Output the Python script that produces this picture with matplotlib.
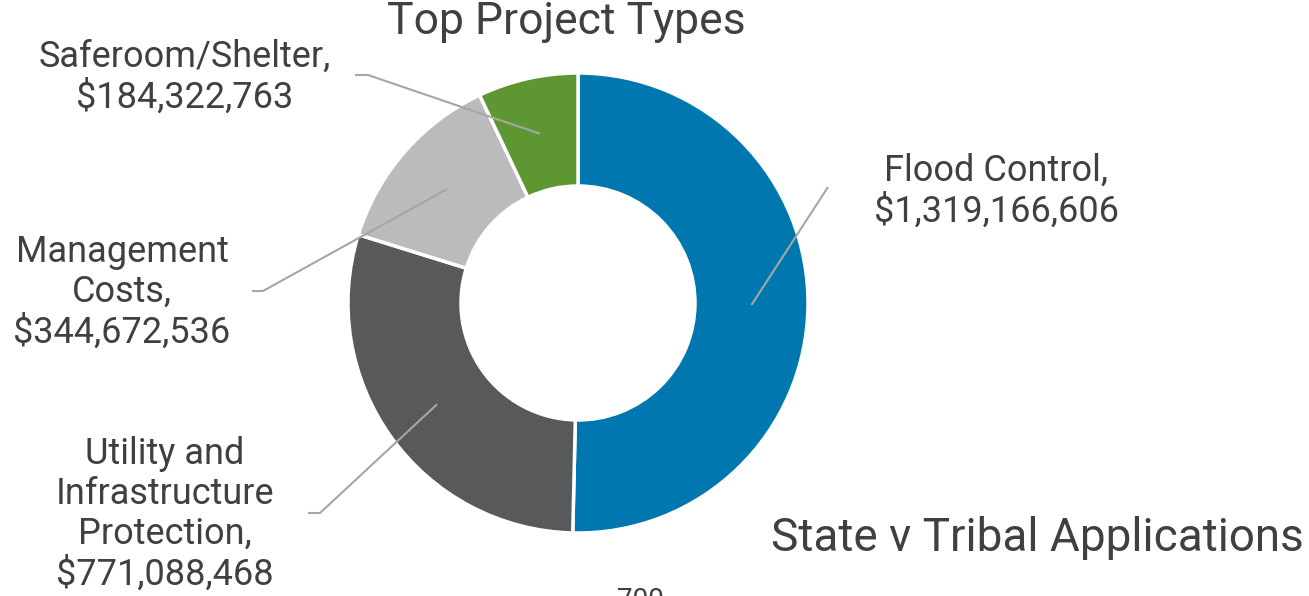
import numpy as np
from matplotlib import pyplot as plt

plt.rcParams['font.family'] = ['Roboto', 'DejaVu Sans']

categories = ['Flood Control', 'Utility and\nInfrastructure\nProtection',
              'Management\nCosts', 'Saferoom/Shelter']
amounts = [1319166606, 771088468, 344672536, 184322763]
colors = ['#0077ae', '#58595b', '#babbbd', '#5e9732']

W, H = 1309, 596
fig = plt.figure(figsize=(W / 100, H / 100), dpi=100)
ax = fig.add_axes([0, 0, 1, 1])

cx, cy = 578, H - 303
r_out, r_in = 230, 117
wedges, _ = ax.pie(amounts, colors=colors, startangle=90, counterclock=False,
                   center=(cx, cy), radius=r_out, frame=True,
                   wedgeprops=dict(width=r_out - r_in, edgecolor='white', linewidth=2.5))
ax.set_xlim(0, W)
ax.set_ylim(0, H)
ax.set_aspect('equal')
ax.axis('off')

# label text positions (center of block) and elbow of leader line, in pixels from top
label_pos = [(996, 191), (165, 514), (122, 292), (185, 77)]
elbows = [((828, 187), (828, 187)), ((308, 513), (320, 513)),
          ((252, 291), (263, 291)), ((355, 75), (368, 75))]

text_col = '#404040'
r_mid = (r_out + r_in) / 2
for w, name, amt, (lx, ly), (e0, e1) in zip(wedges, categories, amounts, label_pos, elbows):
    ang = np.deg2rad((w.theta1 + w.theta2) / 2)
    px, py = cx + r_mid * np.cos(ang), cy + r_mid * np.sin(ang)
    ax.plot([e0[0], e1[0], px], [H - e0[1], H - e1[1], py],
            color='#a6a6a6', lw=1.5, solid_capstyle='butt')
    ax.text(lx, H - ly, f'{name},\n${amt:,}', ha='center', va='center',
            fontsize=26, color=text_col, linespacing=1.15)

ax.text(566, H - 22, 'Top Project Types', ha='center', va='center',
        fontsize=32, color=text_col)
ax.text(1037, H - 538, 'State v Tribal Applications', ha='center', va='center',
        fontsize=33, color=text_col)
ax.text(640, H - 601, '700', ha='center', va='center', fontsize=20, color=text_col)

fig.savefig('out.png', dpi=100)
